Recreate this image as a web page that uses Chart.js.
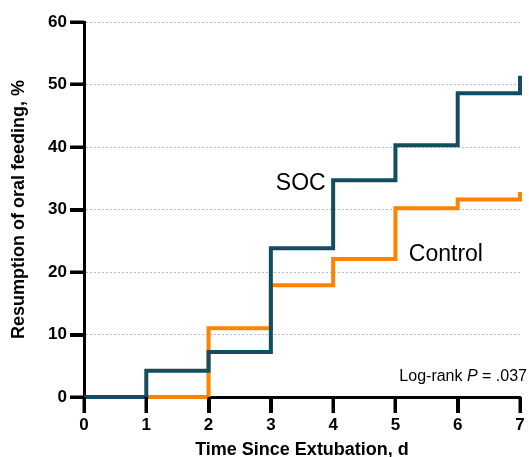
<!DOCTYPE html>
<html>
<head>
<meta charset="utf-8">
<script src="https://cdn.jsdelivr.net/npm/chart.js@4"></script>
<style>
  body { margin: 0; background: #fff; }
  #wrap { width: 529px; height: 457px; }
</style>
</head>
<body>
<div id="wrap"><canvas id="myChart" width="529" height="457"></canvas></div>
<script>
// days since extubation
const days = [0, 1, 2, 3, 4, 5, 6, 7];
// cumulative resumption of oral feeding, %
const socValues = [0, 4.2, 7.2, 23.8, 34.7, 40.3, 48.6, 51.4];
const controlValues = [0, 0, 11.0, 17.9, 22.1, 30.2, 31.6, 32.8];
const yTicks = [0, 10, 20, 30, 40, 50, 60];

const FONT = "'Liberation Sans', Arial, Helvetica, sans-serif";

function toPoints(vals) {
    return days.map(function(d, i) {
        return { x: d, y: vals[i] };
    });
}

// black tick marks on both axes, drawn as small filled bars
const tickPlugin = {
    id: 'tickMarks',
    afterDraw: function(chart) {
        const c = chart.ctx;
        const xs = chart.scales.x;
        const ys = chart.scales.y;
        const area = chart.chartArea;
        c.save();
        c.fillStyle = '#000';
        xs.ticks.forEach(function(t) {
            const px = Math.round(xs.getPixelForValue(t.value));
            c.fillRect(px - 1.5, area.bottom, 3.5, 16);
        });
        ys.ticks.forEach(function(t) {
            const py = Math.round(ys.getPixelForValue(t.value));
            c.fillRect(area.left - 14, py - 1.5, 14, 3.5);
        });
        c.restore();
    }
};

// text labels placed in data coords
const labelPlugin = {
    id: 'labels',
    afterDatasetsDraw: function(chart) {
        const c = chart.ctx;
        const xs = chart.scales.x;
        const ys = chart.scales.y;
        c.save();
        c.fillStyle = '#000';
        c.textBaseline = 'middle';
        c.textAlign = 'center';
        c.font = '23px ' + FONT;
        c.fillText('SOC', xs.getPixelForValue(3.48), ys.getPixelForValue(34.2));
        c.fillText('Control', xs.getPixelForValue(5.81), ys.getPixelForValue(22.8));

        // Log-rank P = .037, right aligned
        const yy = ys.getPixelForValue(3.3);
        const right = xs.getPixelForValue(7) + 7;
        c.textAlign = 'left';
        c.font = '16px ' + FONT;
        const p1 = 'Log-rank ';
        const p3 = ' = .037';
        const w1 = c.measureText(p1).width;
        const w3 = c.measureText(p3).width;
        c.font = 'italic 16px ' + FONT;
        const w2 = c.measureText('P').width;
        const left = right - w1 - w2 - w3;
        c.font = '16px ' + FONT;
        c.fillText(p1, left, yy);
        c.fillText(p3, left + w1 + w2, yy);
        c.font = 'italic 16px ' + FONT;
        c.fillText('P', left + w1, yy);
        c.restore();
    }
};

new Chart(document.getElementById('myChart'), {
    type: 'line',
    data: {
        datasets: [{
            label: 'SOC',
            data: toPoints(socValues),
            borderColor: '#124e60',
            borderWidth: 4,
            stepped: 'before',
            pointRadius: 0,
            fill: false,
            clip: 6,
            order: 0
        }, {
            label: 'Control',
            data: toPoints(controlValues),
            borderColor: '#ff8200',
            borderWidth: 4,
            stepped: 'before',
            pointRadius: 0,
            fill: false,
            clip: 6,
            order: 1
        }]
    },
    options: {
        responsive: false,
        animation: false,
        layout: { padding: { top: 22, right: 9, left: 0, bottom: 0 } },
        plugins: {
            legend: { display: false },
            tooltip: { enabled: false }
        },
        scales: {
            x: {
                type: 'linear',
                min: 0,
                max: 7,
                afterFit: function(scale) { scale.height = 60; },
                ticks: {
                    stepSize: 1,
                    padding: 2,
                    color: '#000',
                    font: { family: FONT, size: 17, weight: 'bold' }
                },
                grid: {
                    drawOnChartArea: false,
                    drawTicks: true,
                    tickLength: 16,
                    tickWidth: 3,
                    tickColor: '#000'
                },
                border: { display: true, color: '#000', width: 3 },
                title: {
                    display: true,
                    text: 'Time Since Extubation, d',
                    color: '#000',
                    padding: { top: -4, bottom: -4 },
                    font: { family: FONT, size: 18, weight: 'bold' }
                }
            },
            y: {
                min: 0,
                max: 60,
                afterFit: function(scale) { scale.width = 84; },
                afterBuildTicks: function(scale) {
                    scale.ticks = yTicks.map(function(v) { return { value: v }; });
                },
                ticks: {
                    padding: 3,
                    color: '#000',
                    font: { family: FONT, size: 17, weight: 'bold' }
                },
                grid: {
                    color: '#bdbdbd',
                    lineWidth: 1,
                    drawTicks: true,
                    tickLength: 14,
                    tickWidth: 3,
                    tickColor: '#000',
                    tickBorderDash: []
                },
                border: { display: true, color: '#000', width: 3, dash: [2, 2] },
                title: {
                    display: true,
                    text: 'Resumption of oral feeding, %',
                    color: '#000',
                    padding: { top: 8, bottom: 8 },
                    font: { family: FONT, size: 18, weight: 'bold' }
                }
            }
        }
    },
    plugins: [labelPlugin, tickPlugin]
});
</script>
</body>
</html>
